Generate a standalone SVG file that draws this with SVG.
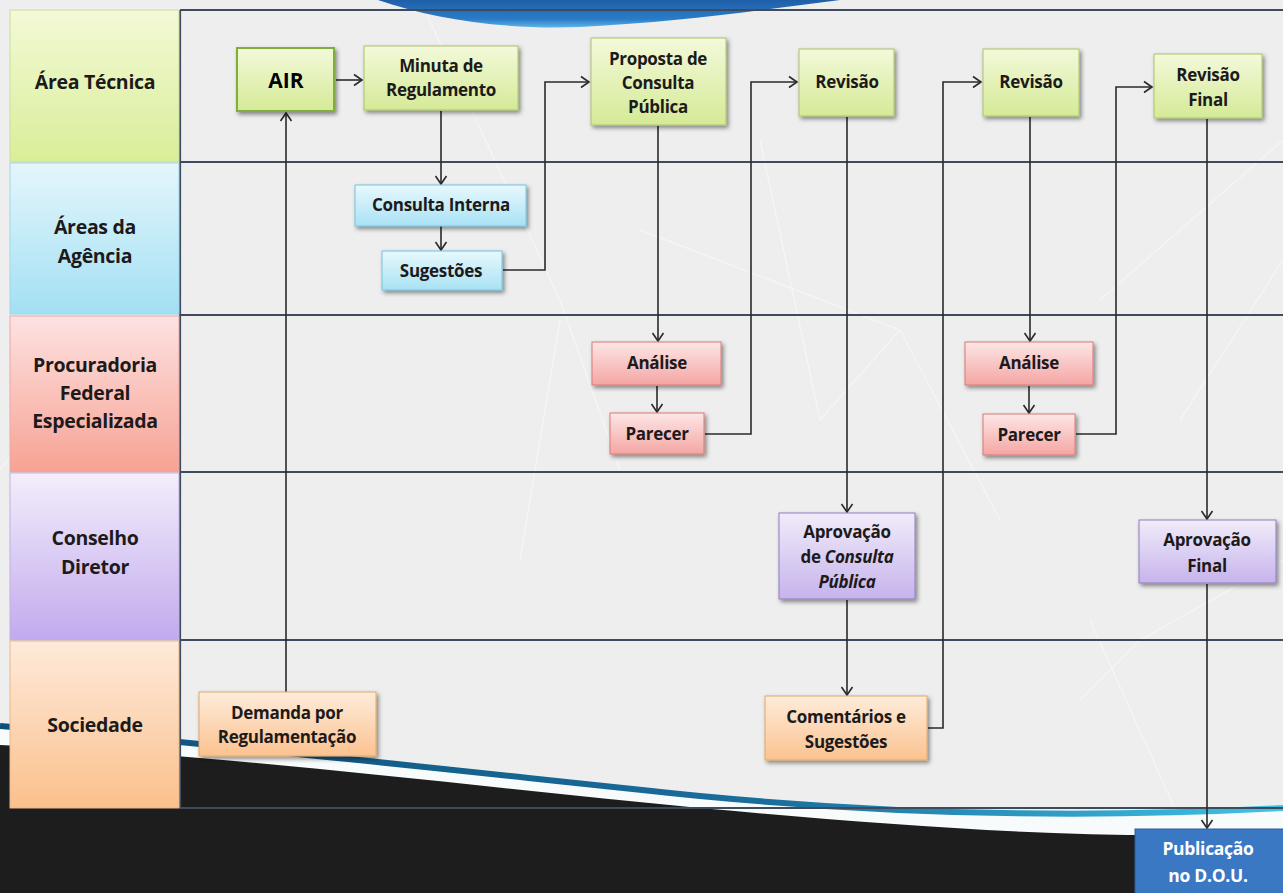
<svg xmlns="http://www.w3.org/2000/svg" width="1283" height="893" viewBox="0 0 1283 893">
<defs>
<style>
.t{font-family:"Open Sans",Lato,"Liberation Sans",sans-serif;font-weight:bold;font-size:17px;fill:#1c1a1a;text-anchor:middle;letter-spacing:-0.3px}
.lane{font-family:"Open Sans",Lato,"Liberation Sans",sans-serif;font-weight:bold;font-size:19.5px;fill:#1c1a1a;text-anchor:middle;letter-spacing:-0.3px}
.w{fill:#ffffff;font-size:17.5px}
.i{font-style:italic}
.grid{stroke:#3e4a5e;stroke-width:2.2;fill:none}
.ca{stroke:#2a2a2a;stroke-width:1.6;fill:none;marker-end:url(#arr)}
.g{fill:url(#gG);stroke:#a9c46a;stroke-width:1;filter:url(#sh)}
.b{fill:url(#gB);stroke:#74c3de;stroke-width:1;filter:url(#sh)}
.p{fill:url(#gP);stroke:#d87a76;stroke-width:1;filter:url(#sh)}
.v{fill:url(#gV);stroke:#8f7cc0;stroke-width:1;filter:url(#sh)}
.o{fill:url(#gO);stroke:#e2a86a;stroke-width:1;filter:url(#sh)}
.net{stroke:#ffffff;stroke-width:1.5;opacity:0.4;fill:none}
</style>
<linearGradient id="gG" x1="0" y1="0" x2="0" y2="1"><stop offset="0" stop-color="#f3f9da"/><stop offset="1" stop-color="#d5ea97"/></linearGradient>
<linearGradient id="gB" x1="0" y1="0" x2="0" y2="1"><stop offset="0" stop-color="#e8f8fd"/><stop offset="1" stop-color="#a9e2f4"/></linearGradient>
<linearGradient id="gP" x1="0" y1="0" x2="0" y2="1"><stop offset="0" stop-color="#fde6e6"/><stop offset="1" stop-color="#f4a6a3"/></linearGradient>
<linearGradient id="gV" x1="0" y1="0" x2="0" y2="1"><stop offset="0" stop-color="#f1ecfa"/><stop offset="1" stop-color="#c6b3ec"/></linearGradient>
<linearGradient id="gO" x1="0" y1="0" x2="0" y2="1"><stop offset="0" stop-color="#feecda"/><stop offset="1" stop-color="#fbc290"/></linearGradient>
<linearGradient id="lG" x1="0" y1="0" x2="0" y2="1"><stop offset="0" stop-color="#f3f9d6"/><stop offset="1" stop-color="#d9ee98"/></linearGradient>
<linearGradient id="lB" x1="0" y1="0" x2="0" y2="1"><stop offset="0" stop-color="#e4f6fc"/><stop offset="1" stop-color="#a2e0f3"/></linearGradient>
<linearGradient id="lP" x1="0" y1="0" x2="0" y2="1"><stop offset="0" stop-color="#fde2e2"/><stop offset="1" stop-color="#f7a293"/></linearGradient>
<linearGradient id="lV" x1="0" y1="0" x2="0" y2="1"><stop offset="0" stop-color="#f3eefb"/><stop offset="1" stop-color="#c2aaee"/></linearGradient>
<linearGradient id="lO" x1="0" y1="0" x2="0" y2="1"><stop offset="0" stop-color="#feeadb"/><stop offset="1" stop-color="#fbc08c"/></linearGradient>
<linearGradient id="swoosh" x1="0" y1="0" x2="0" y2="1"><stop offset="0" stop-color="#1f5fa8"/><stop offset="0.7" stop-color="#2a7cc8"/><stop offset="1" stop-color="#5fb4e6"/></linearGradient>
<linearGradient id="bl" x1="0" y1="0" x2="1" y2="0"><stop offset="0" stop-color="#0d4f7a"/><stop offset="0.6" stop-color="#1a6e9c"/><stop offset="1" stop-color="#3fc3e6"/></linearGradient>
<filter id="sh" x="-20%" y="-20%" width="150%" height="150%"><feDropShadow dx="2" dy="2.5" stdDeviation="2" flood-color="#000" flood-opacity="0.45"/></filter>
<marker id="arr" markerUnits="userSpaceOnUse" markerWidth="14" markerHeight="14" refX="11" refY="7" orient="auto"><path d="M3,1.5 L11,7 L3,12.5" fill="none" stroke="#2a2a2a" stroke-width="1.6"/></marker>
</defs>

<!-- background -->
<rect x="0" y="0" width="1283" height="893" fill="#eeeeee"/>
<g id="network">
<path class="net" d="M420 0 L560 300 L620 470 M640 230 L900 330 L1000 520 M760 140 L820 420 L900 330 M1100 300 L1283 140 M1180 420 L1283 260 M1080 700 L1140 640 L1283 560 M1090 620 L1180 820 M40 420 L0 470 M520 560 L560 320"/>
</g>
<path id="swoosh-top" d="M378 0 C430 18 500 30 580 27 C680 22 760 10 840 0 Z" fill="url(#swoosh)"/>
<!-- bottom dark -->
<path d="M0 726 C200 742 450 770 700 796 C900 815 1100 818 1283 808 L1283 893 L0 893 Z" fill="#f8fbfc"/>
<path d="M0 726 C200 742 450 770 700 796 C900 815 1100 818 1283 808" fill="none" stroke="url(#bl)" stroke-width="6"/>
<path d="M0 745 C220 754 460 785 700 808 C900 826 1100 842 1283 832 L1283 893 L0 893 Z" fill="#1d1d1e"/>

<!-- grid -->
<g id="grid">
<path class="grid" d="M180 10 H1283 M180 162 H1283 M180 315 H1283 M180 472 H1283 M180 640 H1283 M180 808 H1283"/>
<path class="grid" d="M180 10 V808"/>
</g>

<!-- lane labels -->
<g id="lane-area-tecnica">
<rect x="10" y="10" width="169" height="152" fill="url(#lG)" stroke="#c9dba0" stroke-width="1"/>
<text class="lane" x="95" y="89">Área Técnica</text>
</g>
<g id="lane-areas-agencia">
<rect x="10" y="163" width="169" height="151" fill="url(#lB)" stroke="#9fd6e8" stroke-width="1"/>
<text class="lane" x="95" y="234">Áreas da</text>
<text class="lane" x="95" y="263">Agência</text>
</g>
<g id="lane-procuradoria">
<rect x="10" y="316" width="169" height="156" fill="url(#lP)" stroke="#e6a9a4" stroke-width="1"/>
<text class="lane" x="95" y="372">Procuradoria</text>
<text class="lane" x="95" y="400">Federal</text>
<text class="lane" x="95" y="428">Especializada</text>
</g>
<g id="lane-conselho">
<rect x="10" y="473" width="169" height="167" fill="url(#lV)" stroke="#c2b0e0" stroke-width="1"/>
<text class="lane" x="95" y="545">Conselho</text>
<text class="lane" x="95" y="574">Diretor</text>
</g>
<g id="lane-sociedade">
<rect x="10" y="641" width="169" height="167" fill="url(#lO)" stroke="#e8b88a" stroke-width="1"/>
<text class="lane" x="95" y="732">Sociedade</text>
</g>

<!-- connectors -->
<g id="connectors">
<path class="ca" d="M336 80 H362"/>
<path class="ca" d="M286 692 V113"/>
<path class="ca" d="M441 111 V184"/>
<path class="ca" d="M441 226 V250"/>
<path class="ca" d="M503 270 H545 V82 H589"/>
<path class="ca" d="M658 126 V341"/>
<path class="ca" d="M657 386 V412"/>
<path class="ca" d="M705 434 H751 V82 H797"/>
<path class="ca" d="M847 117 V512"/>
<path class="ca" d="M847 600 V695"/>
<path class="ca" d="M928 728 H943 V82 H981"/>
<path class="ca" d="M1030 117 V341"/>
<path class="ca" d="M1029 386 V413"/>
<path class="ca" d="M1076 434 H1116 V87 H1152"/>
<path class="ca" d="M1207 119 V519"/>
<path class="ca" d="M1207 584 V828"/>
</g>

<!-- nodes -->
<g id="n-air">
<rect x="237" y="48" width="97" height="63" fill="url(#gG)" stroke="#7fae3e" stroke-width="2" filter="url(#sh)"/>
<text class="t" x="286" y="88" style="font-size:21px;fill:#000;letter-spacing:0">AIR</text>
</g>
<g id="n-minuta">
<rect class="g" x="364" y="46" width="154" height="64"/>
<text class="t" x="441" y="72">Minuta de</text>
<text class="t" x="441" y="96">Regulamento</text>
</g>
<g id="n-proposta">
<rect class="g" x="591" y="38" width="135" height="87"/>
<text class="t" x="658" y="65">Proposta de</text>
<text class="t" x="658" y="89">Consulta</text>
<text class="t" x="658" y="113">Pública</text>
</g>
<g id="n-revisao1">
<rect class="g" x="799" y="49" width="95" height="67"/>
<text class="t" x="847" y="88">Revisão</text>
</g>
<g id="n-revisao2">
<rect class="g" x="983" y="49" width="96" height="67"/>
<text class="t" x="1031" y="88">Revisão</text>
</g>
<g id="n-revisao-final">
<rect class="g" x="1154" y="54" width="108" height="64"/>
<text class="t" x="1208" y="81">Revisão</text>
<text class="t" x="1208" y="106">Final</text>
</g>
<g id="n-consulta-interna">
<rect class="b" x="355" y="185" width="171" height="41"/>
<text class="t" x="441" y="211">Consulta Interna</text>
</g>
<g id="n-sugestoes">
<rect class="b" x="382" y="251" width="120" height="39"/>
<text class="t" x="441" y="277">Sugestões</text>
</g>
<g id="n-analise1">
<rect class="p" x="592" y="342" width="129" height="43"/>
<text class="t" x="657" y="369">Análise</text>
</g>
<g id="n-parecer1">
<rect class="p" x="610" y="413" width="94" height="41"/>
<text class="t" x="657" y="440">Parecer</text>
</g>
<g id="n-analise2">
<rect class="p" x="965" y="342" width="128" height="43"/>
<text class="t" x="1029" y="369">Análise</text>
</g>
<g id="n-parecer2">
<rect class="p" x="983" y="414" width="92" height="41"/>
<text class="t" x="1029" y="441">Parecer</text>
</g>
<g id="n-aprovacao-cp">
<rect class="v" x="779" y="513" width="136" height="86"/>
<text class="t" x="847" y="538">Aprovação</text>
<text class="t" x="847" y="563">de <tspan class="i">Consulta</tspan></text>
<text class="t i" x="847" y="588">Pública</text>
</g>
<g id="n-aprovacao-final">
<rect class="v" x="1139" y="520" width="137" height="63"/>
<text class="t" x="1207" y="546">Aprovação</text>
<text class="t" x="1207" y="572">Final</text>
</g>
<g id="n-demanda">
<rect class="o" x="199" y="692" width="177" height="64"/>
<text class="t" x="287" y="719">Demanda por</text>
<text class="t" x="287" y="743">Regulamentação</text>
</g>
<g id="n-comentarios">
<rect class="o" x="765" y="696" width="162" height="64"/>
<text class="t" x="846" y="723">Comentários e</text>
<text class="t" x="846" y="748">Sugestões</text>
</g>
<g id="n-publicacao">
<rect x="1135" y="829" width="152" height="70" fill="#3b78c4" stroke="#2d5f9e" stroke-width="1"/>
<text class="t w" x="1208" y="855">Publicação</text>
<text class="t w" x="1208" y="882">no D.O.U.</text>
</g>
</svg>
